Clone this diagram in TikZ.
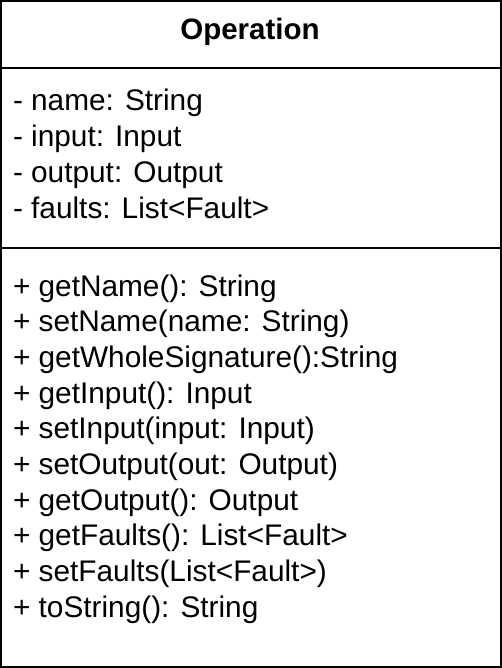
\documentclass[tikz,border=0pt]{standalone}
\usepackage{fontspec}
\setmainfont{Liberation Sans}

\begin{document}
\begin{tikzpicture}[x=1pt, y=-1pt, line width=2pt]
    \tikzset{member/.style={anchor=base west, inner sep=0pt, font=\fontsize{29.8}{34}\selectfont}}
    \useasboundingbox (0,0) rectangle (502,668);

    % 类框与分隔线
    \draw (1,1) rectangle (501,667);
    \draw (1,68) -- (501,68);
    \draw (1,248) -- (501,248);

    % 类名
    \node[member, anchor=base, font=\fontsize{29.5}{34}\selectfont\bfseries] (title) at (250,40) {Operation};

    % 属性
    \foreach \t [count=\i] in {- name: String, - input: Input, - output: Output, - faults: List<Fault>}
        \node[member] (attr\i) at (12,{111+35.7*(\i-1)}) {\t};

    % 方法
    \foreach \t [count=\i] in {+ getName(): String, + setName(name: String), + getWholeSignature():String,
        + getInput(): Input, + setInput(input: Input), + setOutput(out: Output), + getOutput(): Output,
        + getFaults(): List<Fault>, + setFaults(List<Fault>), + toString(): String}
        \node[member] (op\i) at (12,{296+35.7*(\i-1)}) {\t};
\end{tikzpicture}
\end{document}
